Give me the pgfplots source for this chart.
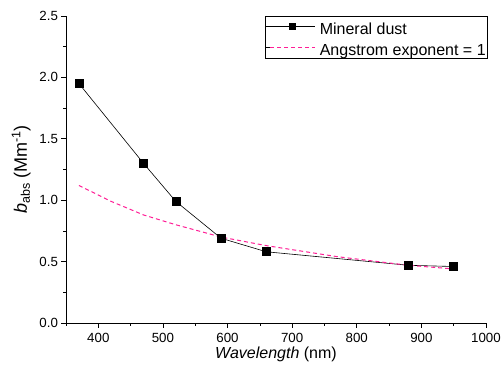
\documentclass[border=0pt]{standalone}
\usepackage{pgfplots}
\pgfplotsset{compat=1.18}
\usepackage{fontspec}
\setmainfont{Liberation Sans}
\definecolor{pinkdash}{RGB}{255,30,150}
\begin{document}
\begin{tikzpicture}
\useasboundingbox (-66pt,-49pt) rectangle (437pt,323pt);
\begin{axis}[
  at={(0pt,0pt)}, anchor=south west,
  scale only axis, width=420pt, height=307pt,
  xmin=350, xmax=1000, ymin=0, ymax=2.5,
  axis lines*=left,
  axis line style={line width=0.8pt},
  tick align=outside,
  tick style={black, line width=0.6pt},
  xtick={400,500,600,700,800,900,1000},
  ytick={0,0.5,1,1.5,2,2.5},
  minor x tick num=1, minor y tick num=1,
  extra x ticks={350}, extra x tick labels={},
  extra x tick style={major tick length=2.5pt},
  major tick length=4.5pt, minor tick length=2.5pt,
  /pgf/number format/assume math mode=true,
  yticklabel style={/pgf/number format/.cd, fixed, fixed zerofill, precision=1},
  xticklabel style={yshift=-2pt, /pgf/number format/.cd, 1000 sep={}},
  tick label style={font=\fontsize{13.3}{15}\selectfont},
  xlabel={\fontsize{16}{19}\selectfont\textit{Wavelength} (nm)},
  ylabel={\fontsize{18}{21}\selectfont\textit{b}{\fontsize{12.5}{14}\selectfont\raisebox{-3pt}{abs}} (Mm{\fontsize{12.5}{14}\selectfont\raisebox{6.5pt}{-1}})},
  every axis x label/.style={at={(axis description cs:0.5,0)}, yshift=-35pt, anchor=base},
  every axis y label/.style={at={(axis description cs:0,0.5)}, xshift=-39pt, anchor=base, rotate=90},
  legend style={at={(1,1)}, xshift=2pt, anchor=north east, font=\fontsize{16}{19}\selectfont,
    draw=black, line width=0.6pt, inner sep=1pt, row sep=2pt, column sep=3pt,
    nodes={inner sep=1pt, text height=16pt, text depth=1pt}},
  legend cell align=left,
]
\addplot[forget plot, black, line width=0.6pt, mark=square*, mark size=4pt, mark options={solid}] coordinates {
  (370,1.95) (470,1.30) (520,0.99) (590,0.69) (660,0.58) (880,0.47) (950,0.46)
};
\addplot[forget plot, draw=pinkdash, dash pattern=on 4pt off 3pt, line width=1pt] coordinates {
  (370,1.12) (420,0.99) (470,0.88) (520,0.80) (590,0.70) (660,0.63) (770,0.54) (880,0.47) (950,0.44)
};
\addlegendimage{legend image code/.code={\path (-4pt,0pt) -- (0pt,0pt);
  \draw[draw=black, line width=0.6pt] (0pt,0pt) -- (45pt,0pt);
  \fill[fill=black] (19.5pt,-2.7pt) rectangle (25.5pt,3.3pt);}}
\addlegendentry{Mineral dust}
\addlegendimage{legend image code/.code={\path (-4pt,0pt) -- (0pt,0pt);
  \draw[draw=pinkdash, line width=1.4pt, dash pattern=on 4pt off 3pt] (0pt,0.5pt) -- (45pt,0.5pt);}}
\addlegendentry{Angstrom exponent = 1}
\end{axis}
\end{tikzpicture}
\end{document}
